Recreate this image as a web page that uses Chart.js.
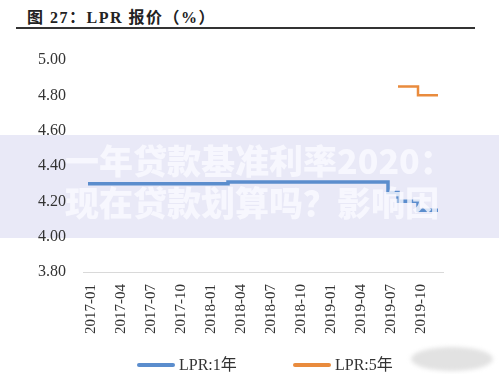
<!DOCTYPE html>
<html>
<head>
<meta charset="utf-8">
<script src="https://cdn.jsdelivr.net/npm/chart.js@4/dist/chart.umd.min.js"></script>
<style>
  html, body { margin: 0; padding: 0; background: #fff; }
  #wrap { position: relative; width: 499px; height: 374px; overflow: hidden; }
  #band { position: absolute; left: 0; top: 135px; width: 499px; height: 103px; background: #e9e9f7; }
  #title { position: absolute; left: 27px; top: 4px; font: bold 16px "Liberation Serif", "Noto Sans CJK SC", serif; letter-spacing: 1.5px; color: #222; }
  #rule { position: absolute; left: 16px; top: 27px; width: 459px; height: 2px; background: #333; }
  #chartBox { position: absolute; left: 0; top: 0; width: 499px; height: 374px; }
  #legend { position: absolute; top: 355px; left: 0; width: 499px; height: 20px; font: 16px "Liberation Serif", "Noto Sans CJK SC", serif; color: #333; }
  .item { position: absolute; top: 0; height: 20px; line-height: 20px; white-space: nowrap; }
  .swatch { display: inline-block; width: 38px; height: 4px; border-radius: 2px; vertical-align: middle; margin-right: 4px; position: relative; top: -1px; }
  #mark { position: absolute; left: 65px; top: 139px; font: 900 34px "Noto Sans CJK SC", sans-serif; line-height: 42px; color: rgba(250, 250, 255, 0.8); white-space: nowrap; }
  #blob { position: absolute; left: 411px; top: 347px; width: 82px; height: 24px; border-radius: 50%; background: #e2e2e2; filter: blur(2px); }
</style>
</head>
<body>
<div id="wrap">
  <div id="band"></div>
  <div id="title">图 27：LPR 报价（%）</div>
  <div id="rule"></div>
  <div id="chartBox"><canvas id="lprChart"></canvas></div>
  <div id="legend"></div>
  <div id="mark">一年贷款基准利率2020：<br>现在贷款划算吗？影响因</div>
  <div id="blob"></div>
</div>
<script>
const months = [
  "2017-01", "2017-02", "2017-03", "2017-04", "2017-05", "2017-06",
  "2017-07", "2017-08", "2017-09", "2017-10", "2017-11", "2017-12",
  "2018-01", "2018-02", "2018-03", "2018-04", "2018-05", "2018-06",
  "2018-07", "2018-08", "2018-09", "2018-10", "2018-11", "2018-12",
  "2019-01", "2019-02", "2019-03", "2019-04", "2019-05", "2019-06",
  "2019-07", "2019-08", "2019-09", "2019-10", "2019-11", "2019-12",
];

const lpr1y = [
  4.30, 4.30, 4.30, 4.30, 4.30, 4.30,
  4.30, 4.30, 4.30, 4.30, 4.30, 4.30,
  4.30, 4.30, 4.30, 4.31, 4.31, 4.31,
  4.31, 4.31, 4.31, 4.31, 4.31, 4.31,
  4.31, 4.31, 4.31, 4.31, 4.31, 4.31,
  4.31, 4.25, 4.20, 4.20, 4.15, 4.15,
];

const lpr5y = [
  null, null, null, null, null, null,
  null, null, null, null, null, null,
  null, null, null, null, null, null,
  null, null, null, null, null, null,
  null, null, null, null, null, null,
  null, 4.85, 4.85, 4.85, 4.80, 4.80,
];

const yTicks = [3.8, 4.0, 4.2, 4.4, 4.6, 4.8, 5.0];

const seriesNames = ["LPR:1年", "LPR:5年"];
const seriesColors = ["#5b8dcd", "#e98b3d"];

const serif = "'Liberation Serif', 'Times New Roman', serif";

const chart = new Chart(document.getElementById("lprChart"), {
  type: "line",
  data: {
    labels: months,
    datasets: [
      {
        label: seriesNames[0],
        data: lpr1y,
        borderColor: seriesColors[0],
        backgroundColor: seriesColors[0],
        borderWidth: 3.5,
        pointRadius: 0,
        stepped: "after",
      },
      {
        label: seriesNames[1],
        data: lpr5y,
        borderColor: seriesColors[1],
        backgroundColor: seriesColors[1],
        borderWidth: 2.5,
        pointRadius: 0,
        stepped: "after",
      },
    ],
  },
  options: {
    responsive: true,
    maintainAspectRatio: false,
    animation: false,
    layout: { padding: { top: 60, right: 56, left: 0, bottom: 0 } },
    plugins: {
      tooltip: { enabled: false },
      legend: { display: false },
    },
    scales: {
      x: {
        offset: true,
        grid: { display: false, drawTicks: false },
        border: { display: true, color: "#d9d9d9", width: 1 },
        afterFit: (scale) => { scale.height = 102; },
        ticks: {
          autoSkip: false,
          minRotation: 90,
          maxRotation: 90,
          padding: 12,
          labelOffset: 3,
          color: "#333",
          font: { family: serif, size: 15 },
          callback: (v, i) => (i % 3 === 0 ? months[i] : ""),
        },
      },
      y: {
        min: 3.8,
        max: 5.0,
        afterBuildTicks: (scale) => { scale.ticks = yTicks.map((v) => ({ value: v })); },
        afterFit: (scale) => { scale.width = 83; },
        grid: { display: false, drawTicks: false },
        border: { display: false },
        ticks: {
          padding: 17,
          color: "#333",
          font: { family: serif, size: 16 },
          callback: (v) => v.toFixed(2),
        },
      },
    },
  },
});

// legend spaced like the original (wide gap between the two items)
const legendX = [137, 293];
const legendBox = document.getElementById("legend");
chart.data.datasets.forEach((ds, i) => {
  const item = document.createElement("div");
  item.className = "item";
  item.style.left = legendX[i] + "px";
  item.innerHTML = '<span class="swatch" style="background:' + ds.borderColor + '"></span>' + ds.label;
  legendBox.appendChild(item);
});
</script>
</body>
</html>
